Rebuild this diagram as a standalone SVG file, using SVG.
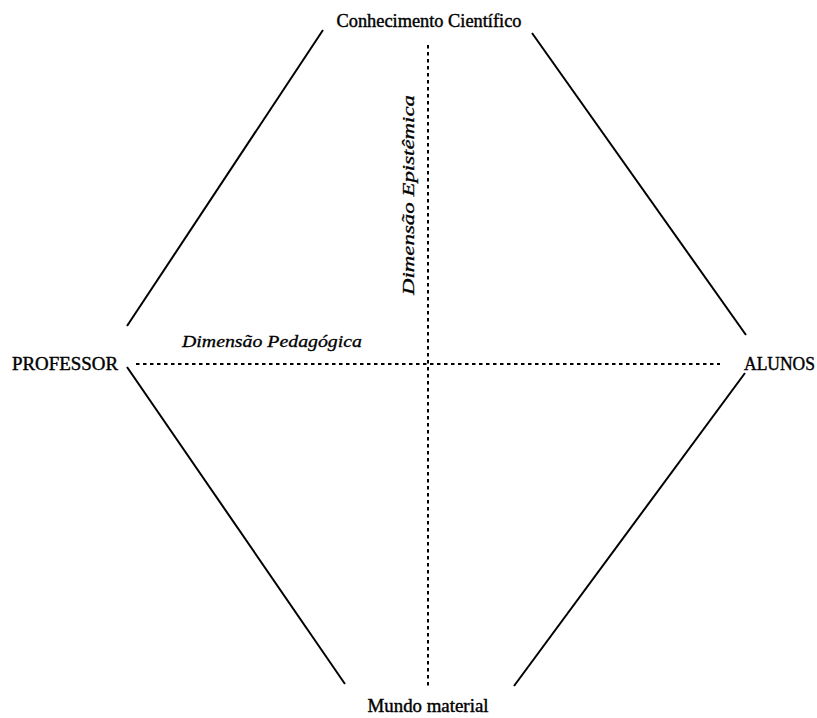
<svg xmlns="http://www.w3.org/2000/svg" width="817" height="718" viewBox="0 0 817 718">
<style>
.lbl{font-family:"Liberation Serif","Times New Roman",serif;font-size:18px;fill:#000;stroke:#000;stroke-width:0.4;}
.dim{font-family:"Liberation Serif","Times New Roman",serif;font-size:17px;font-style:italic;fill:#000;stroke:#000;stroke-width:0.3;}
.edge{stroke:#000;stroke-width:2;fill:none;}
.dot{stroke:#000;stroke-width:2;stroke-dasharray:3.5 3.5;fill:none;}
</style>
<rect width="817" height="718" fill="#fff"/>
<g id="connectors">
<line class="edge" x1="323" y1="30" x2="127" y2="326"/>
<line class="edge" x1="532" y1="33" x2="746" y2="335"/>
<line class="edge" x1="127" y1="367" x2="345" y2="684"/>
<line class="edge" x1="745" y1="373" x2="514" y2="686"/>
<line class="dot" x1="136" y1="364" x2="720" y2="364"/>
<line class="dot" x1="428" y1="45" x2="428" y2="686"/>
</g>
<g id="conhecimento"><text class="lbl" x="429" y="27" text-anchor="middle" textLength="185" lengthAdjust="spacingAndGlyphs">Conhecimento Científico</text></g>
<g id="professor"><text class="lbl" x="12" y="370" textLength="106" lengthAdjust="spacingAndGlyphs">PROFESSOR</text></g>
<g id="alunos"><text class="lbl" x="744" y="370" textLength="71" lengthAdjust="spacingAndGlyphs">ALUNOS</text></g>
<g id="mundo"><text class="lbl" x="428" y="712" text-anchor="middle" textLength="121" lengthAdjust="spacingAndGlyphs">Mundo material</text></g>
<g id="dim-pedagogica"><text class="dim" x="182" y="347" textLength="180" lengthAdjust="spacingAndGlyphs">Dimensão Pedagógica</text></g>
<g id="dim-epistemica"><text class="dim" transform="translate(414,295) rotate(-90)" x="0" y="0" textLength="200" lengthAdjust="spacingAndGlyphs">Dimensão Epistêmica</text></g>
</svg>
